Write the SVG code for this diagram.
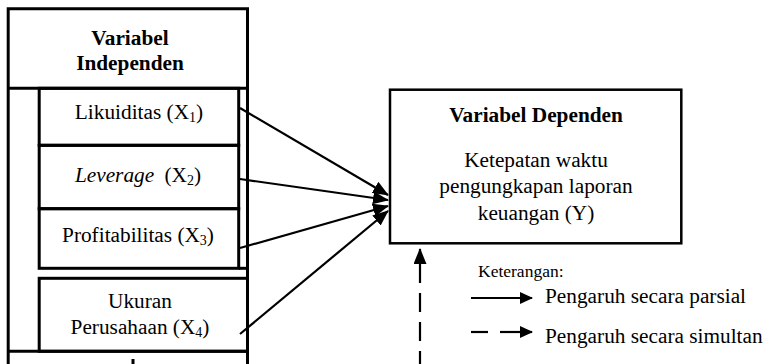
<svg xmlns="http://www.w3.org/2000/svg" width="765" height="364" viewBox="0 0 765 364">
  <defs>
    <style>
      text { font-family: "Liberation Serif", "Times New Roman", serif; fill: #000; }
      .t { font-size: 21.3px; }
      .b { font-weight: bold; }
      .c { text-anchor: middle; }
      .sub { font-size: 14px; }
      .box { fill: none; stroke: #000; stroke-width: 3; }
      .dbox { fill: none; stroke: #000; stroke-width: 2.5; }
      .ln { fill: none; stroke: #000; stroke-width: 3; }
      .arr { fill: none; stroke: #000; stroke-width: 2.2; }
    </style>
    <marker id="ah" markerUnits="userSpaceOnUse" markerWidth="16" markerHeight="13" refX="15" refY="6.5" orient="auto">
      <path d="M0,0 L16,6.5 L0,13 z" fill="#000"/>
    </marker>
    <marker id="ahs" markerUnits="userSpaceOnUse" markerWidth="13" markerHeight="12" refX="12" refY="6" orient="auto">
      <path d="M0,0 L13,6 L0,12 z" fill="#000"/>
    </marker>
  </defs>
  <rect width="765" height="364" fill="#fff"/>

  <g id="independent-frame">
    <path class="ln" d="M8.2,366 V8.7 H247.5 V366"/>
    <line class="ln" x1="8.2" y1="88.3" x2="247.5" y2="88.3"/>
    <line class="ln" x1="8.2" y1="351.3" x2="247.5" y2="351.3"/>
    <line class="ln" x1="133" y1="359" x2="133" y2="366"/>
    <text class="t b c" x="130" y="45">Variabel</text>
    <text class="t b c" x="130" y="70">Independen</text>
  </g>

  <g id="x1">
    <rect class="box" x="39.2" y="88.3" width="199.5" height="57"/>
    <text class="t c" x="139" y="119">Likuiditas (X<tspan class="sub" dy="3">1</tspan><tspan dy="-3">)</tspan></text>
  </g>

  <g id="x2">
    <rect class="box" x="39.2" y="145.3" width="199.5" height="63.4"/>
    <text class="t c" x="138" y="181.5"><tspan font-style="italic">Leverage</tspan><tspan dx="5"> (X</tspan><tspan class="sub" dy="3">2</tspan><tspan dy="-3">)</tspan></text>
  </g>

  <g id="x3">
    <rect class="box" x="39.2" y="208.7" width="199.5" height="59.6"/>
    <line class="ln" x1="238.7" y1="268.3" x2="247.5" y2="268.3"/>
    <text class="t c" x="138" y="242">Profitabilitas (X<tspan class="sub" dy="3">3</tspan><tspan dy="-3">)</tspan></text>
  </g>

  <g id="x4">
    <rect class="box" x="39.2" y="278.3" width="208.3" height="73"/>
    <text class="t c" x="140" y="308">Ukuran</text>
    <text class="t c" x="140" y="334">Perusahaan (X<tspan class="sub" dy="3">4</tspan><tspan dy="-3">)</tspan></text>
  </g>

  <g id="dependent">
    <rect class="dbox" x="390" y="89.7" width="291.3" height="153.6"/>
    <text class="t b c" x="536" y="121.7">Variabel Dependen</text>
    <text class="t c" x="536" y="167">Ketepatan waktu</text>
    <text class="t c" x="536" y="193.3">pengungkapan laporan</text>
    <text class="t c" x="536" y="220">keuangan (Y)</text>
  </g>

  <g id="connectors">
    <line class="arr" x1="240" y1="108" x2="388" y2="195" marker-end="url(#ah)"/>
    <line class="arr" x1="240" y1="179" x2="388" y2="200" marker-end="url(#ah)"/>
    <line class="arr" x1="240" y1="248" x2="388" y2="206" marker-end="url(#ah)"/>
    <line class="arr" x1="240" y1="334" x2="388" y2="211" marker-end="url(#ah)"/>
    <path class="arr" d="M420,364 V249" stroke-dasharray="13 10 19 10 19 10 40" marker-end="url(#ah)"/>
  </g>

  <g id="legend">
    <text x="478" y="276.5" font-size="17.5">Keterangan:</text>
    <line class="arr" x1="471" y1="298" x2="532" y2="298" marker-end="url(#ahs)"/>
    <text class="t" x="545" y="303">Pengaruh secara parsial</text>
    <line class="arr" x1="471" y1="332" x2="488" y2="332"/>
    <line class="arr" x1="500" y1="332" x2="532" y2="332" marker-end="url(#ahs)"/>
    <text class="t" x="545" y="343">Pengaruh secara simultan</text>
  </g>
</svg>
